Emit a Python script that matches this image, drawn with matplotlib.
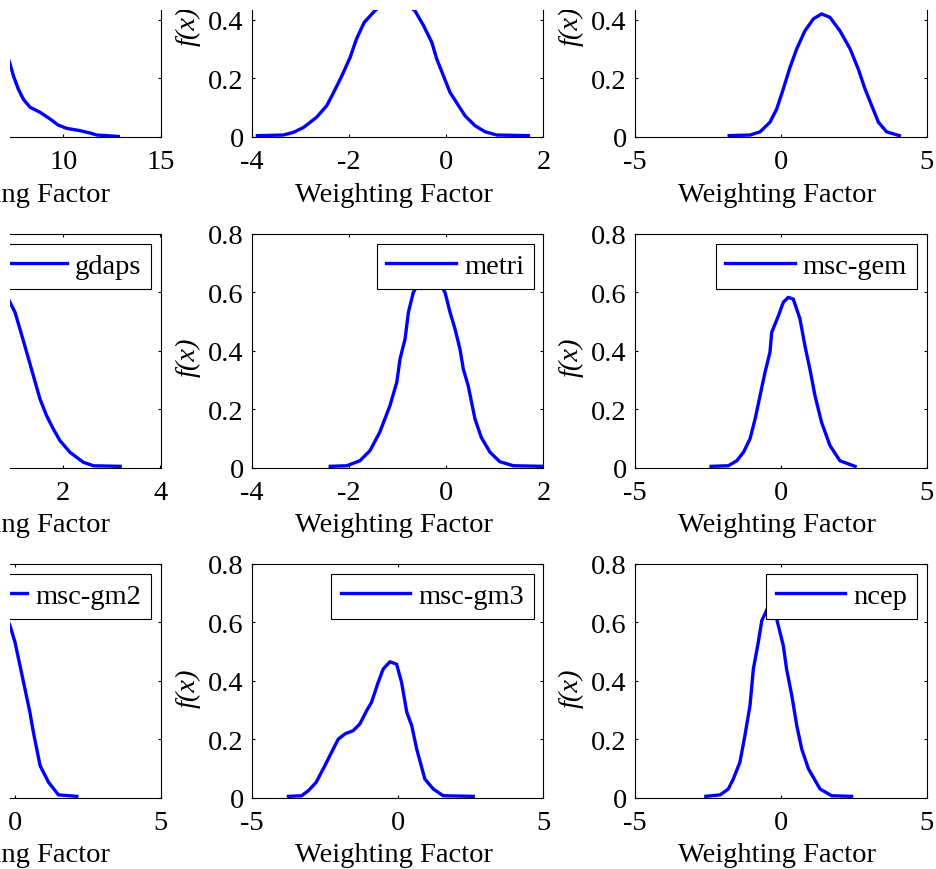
import matplotlib
matplotlib.use('Agg')
import matplotlib.pyplot as plt
from matplotlib.ticker import FuncFormatter
from matplotlib.transforms import Bbox, TransformedBbox

plt.rcParams['font.family'] = ['Liberation Serif', 'DejaVu Serif']
plt.rcParams['axes.unicode_minus'] = False

# ---- curves (weighting factor, f(x)) ----
# top row (legends are outside the crop)
x_top_left = [7.0, 7.26, 7.43, 7.68, 7.94, 8.29, 8.80, 9.32, 9.74, 10.17, 10.86, 11.37, 11.72, 12.23, 12.83]
y_top_left = [0.30, 0.248, 0.208, 0.163, 0.128, 0.100, 0.083, 0.060, 0.039, 0.028, 0.020, 0.012, 0.005, 0.003, 0.0]

x_top_mid = [-3.89, -3.36, -3.15, -2.94, -2.67, -2.46, -2.32, -2.15, -1.98, -1.85, -1.69, -1.47, -1.3, -1.05,
             -0.85, -0.645, -0.47, -0.30, -0.198, -0.06, 0.076, 0.25, 0.385, 0.59, 0.80, 1.04, 1.69]
y_top_mid = [0.003, 0.005, 0.014, 0.031, 0.066, 0.106, 0.151, 0.208, 0.271, 0.334, 0.391, 0.431, 0.455, 0.468,
             0.455, 0.431, 0.380, 0.323, 0.266, 0.208, 0.151, 0.106, 0.071, 0.037, 0.016, 0.005, 0.003]

x_top_right = [-1.77, -1.055, -0.71, -0.37, -0.14, 0.088, 0.317, 0.547, 0.83, 1.12, 1.40, 1.69, 2.03, 2.38,
               2.66, 2.89, 3.12, 3.35, 3.63, 4.07]
y_top_right = [0.003, 0.005, 0.016, 0.049, 0.094, 0.163, 0.237, 0.300, 0.362, 0.403, 0.420, 0.408, 0.362, 0.300,
               0.231, 0.163, 0.106, 0.049, 0.016, 0.003]

# middle row
x_gdaps = [0.80, 0.902, 1.005, 1.108, 1.245, 1.382, 1.519, 1.657, 1.794, 1.931, 2.137, 2.41, 2.62, 3.17]
y_gdaps = [0.60, 0.566, 0.532, 0.474, 0.395, 0.315, 0.235, 0.177, 0.132, 0.092, 0.052, 0.018, 0.006, 0.004]

x_metri = [-2.39, -2.05, -1.78, -1.57, -1.37, -1.16, -1.02, -0.953, -0.85, -0.78, -0.68, -0.35, -0.027, 0.076,
           0.18, 0.28, 0.35, 0.45, 0.59, 0.72, 0.90, 1.10, 1.38, 2.0]
y_metri = [0.004, 0.006, 0.023, 0.058, 0.121, 0.212, 0.292, 0.372, 0.44, 0.532, 0.60, 0.69, 0.60, 0.532,
           0.474, 0.406, 0.337, 0.28, 0.166, 0.103, 0.052, 0.020, 0.006, 0.004]

x_msc_gem = [-2.39, -1.80, -1.51, -1.28, -1.055, -0.88, -0.71, -0.54, -0.37, -0.31, -0.08, 0.088, 0.26, 0.43,
             0.66, 0.83, 1.0, 1.175, 1.40, 1.69, 2.03, 2.55]
y_msc_gem = [0.004, 0.006, 0.023, 0.052, 0.098, 0.166, 0.246, 0.326, 0.395, 0.463, 0.52, 0.566, 0.583, 0.577,
             0.509, 0.417, 0.337, 0.246, 0.155, 0.075, 0.023, 0.004]

# bottom row
x_msc_gm2 = [-0.25, -0.163, 0.009, 0.18, 0.35, 0.52, 0.64, 0.87, 1.16, 1.50, 2.13]
y_msc_gm2 = [0.61, 0.589, 0.532, 0.452, 0.372, 0.292, 0.223, 0.109, 0.052, 0.009, 0.004]

x_msc_gm3 = [-3.75, -3.30, -3.07, -2.80, -2.50, -2.27, -2.04, -1.81, -1.53, -1.30, -1.07, -0.90, -0.67, -0.50,
             -0.27, -0.04, 0.13, 0.31, 0.48, 0.65, 0.93, 1.22, 1.56, 2.59]
y_msc_gm3 = [0.004, 0.006, 0.023, 0.052, 0.109, 0.155, 0.200, 0.218, 0.229, 0.252, 0.297, 0.326, 0.395, 0.44,
             0.465, 0.457, 0.395, 0.292, 0.246, 0.166, 0.063, 0.029, 0.006, 0.004]

x_ncep = [-2.57, -2.08, -1.80, -1.63, -1.40, -1.23, -1.055, -0.94, -0.77, -0.65, -0.40, -0.14, 0.088, 0.20,
          0.38, 0.55, 0.72, 0.95, 1.35, 1.75, 2.43]
y_ncep = [0.004, 0.009, 0.029, 0.063, 0.121, 0.212, 0.315, 0.44, 0.532, 0.606, 0.66, 0.612, 0.52, 0.44,
          0.349, 0.246, 0.166, 0.098, 0.029, 0.006, 0.004]

# (row, col, x, y, xlim, xticks, legend label)
panels = [
    (0, 0, x_top_left, y_top_left, (0, 15), [0, 5, 10, 15], None),
    (0, 1, x_top_mid, y_top_mid, (-4, 2), [-4, -2, 0, 2], None),
    (0, 2, x_top_right, y_top_right, (-5, 5), [-5, 0, 5], None),
    (1, 0, x_gdaps, y_gdaps, (-2, 4), [-2, 0, 2, 4], 'gdaps'),
    (1, 1, x_metri, y_metri, (-4, 2), [-4, -2, 0, 2], 'metri'),
    (1, 2, x_msc_gem, y_msc_gem, (-5, 5), [-5, 0, 5], 'msc-gem'),
    (2, 0, x_msc_gm2, y_msc_gm2, (-5, 5), [-5, 0, 5], 'msc-gm2'),
    (2, 1, x_msc_gm3, y_msc_gm3, (-5, 5), [-5, 0, 5], 'msc-gm3'),
    (2, 2, x_ncep, y_ncep, (-5, 5), [-5, 0, 5], 'ncep'),
]
YLIM = (0, 0.8)
YTICKS = [0, 0.2, 0.4, 0.6, 0.8]

# ---- layout in pixels (the picture is a crop of a bigger figure) ----
FW, FH = 936, 870
COL_LEFT = [-131, 252, 635]
ROW_TOP = [-96, 235, 565]
AX_W, AX_H = 291.5, 233.5
CLIP_LEFT, CLIP_TOP = 10, 11
FS = 20.5

fig = plt.figure(figsize=(FW / 100, FH / 100), dpi=100)
top_clip = TransformedBbox(Bbox.from_extents(0, 0, 1, 1 - CLIP_TOP / FH), fig.transFigure)
fmt = FuncFormatter(lambda v, p: f'{v:g}')

for row, col, xs, ys, xlim, xticks, name in panels:
    x0, y0 = COL_LEFT[col], ROW_TOP[row]
    vx0, vy0 = max(x0, CLIP_LEFT), max(y0, CLIP_TOP)
    vw, vh = x0 + AX_W - vx0, y0 + AX_H - vy0
    cut_left, cut_top = vx0 > x0, vy0 > y0
    x_lo = xlim[0] + (vx0 - x0) / AX_W * (xlim[1] - xlim[0])
    y_hi = YLIM[1] - (vy0 - y0) / AX_H * (YLIM[1] - YLIM[0])

    ax = fig.add_axes([vx0 / FW, 1 - (y0 + AX_H) / FH, vw / FW, vh / FH])
    ax.plot(xs, ys, color='blue', lw=2.4, label=name)
    ax.set_xticks(xticks)
    ax.set_yticks(YTICKS)
    # limits after ticks, otherwise set_*ticks widens them again
    ax.set_xlim(x_lo, xlim[1])
    ax.set_ylim(YLIM[0], y_hi)
    ax.xaxis.set_major_formatter(fmt)
    ax.yaxis.set_major_formatter(fmt)
    for s in ax.spines.values():
        s.set_linewidth(0.8)
    ax.spines['left'].set_visible(not cut_left)
    ax.spines['top'].set_visible(not cut_top)
    ax.tick_params(direction='in', length=2.2, width=0.8, labelsize=FS,
                   top=not cut_top, right=True, left=not cut_left, labelleft=not cut_left)
    ax.tick_params(axis='x', pad=9)
    ax.tick_params(axis='y', pad=6)

    # x label centred (slightly left, as in MATLAB) under the full uncropped axes
    ax.set_xlabel('Weighting Factor', fontsize=FS)
    ax.xaxis.set_label_coords((x0 + AX_W / 2 - 4 - vx0) / vw, -45 / vh)

    if not cut_left:
        ax.set_ylabel('f(x)', fontsize=FS, fontstyle='italic', va='center')
        ax.yaxis.set_label_coords(-64 / vw, (AX_H / 2 - 6) / vh)
        ax.yaxis.label.set_clip_box(top_clip)
        ax.yaxis.label.set_clip_on(True)

    if name:
        leg = ax.legend(loc='upper right', fontsize=FS, fancybox=False, framealpha=1,
                        edgecolor='black', borderpad=0.33, borderaxespad=0.35,
                        handlelength=2.45, handletextpad=0.28)
        leg.get_frame().set_linewidth(0.8)
        for a in [leg.get_frame()] + leg.get_lines():
            a.set_clip_box(ax.bbox)
            a.set_clip_on(True)

fig.savefig('out.png', dpi=100)
